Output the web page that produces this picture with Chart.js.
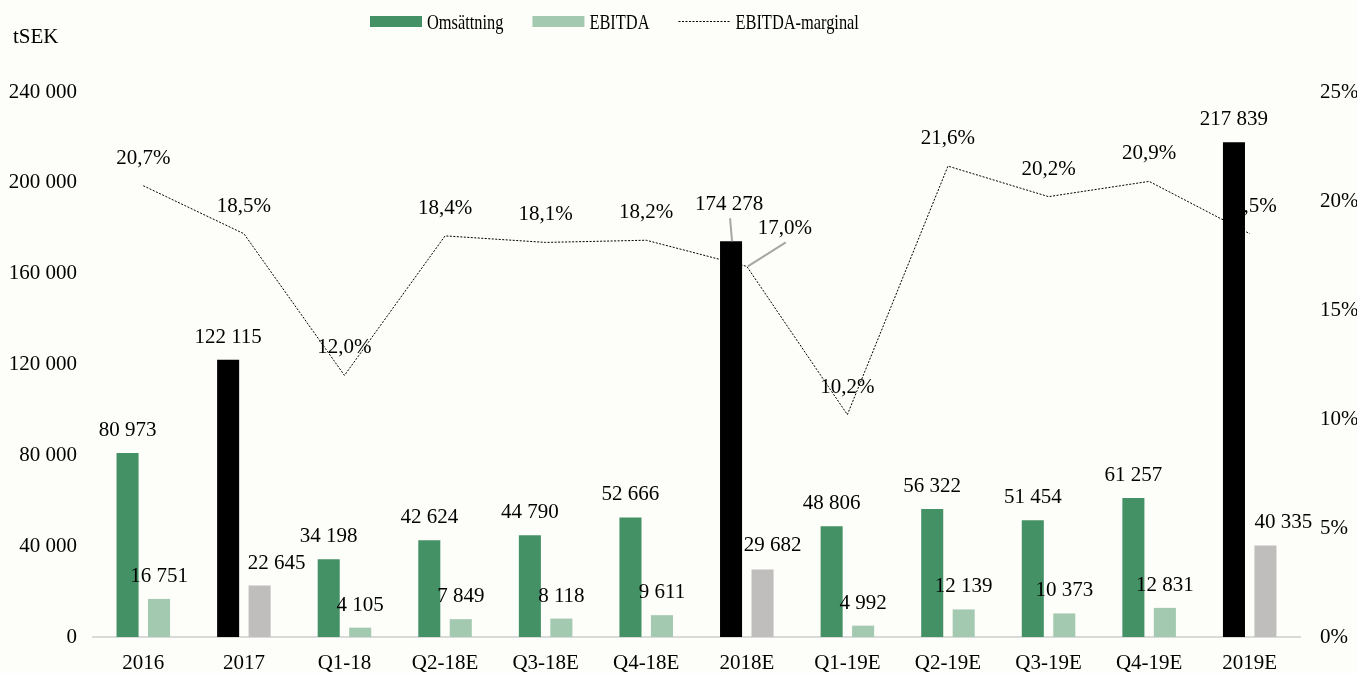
<!DOCTYPE html>
<html>
<head>
<meta charset="utf-8">
<script src="https://cdn.jsdelivr.net/npm/chart.js@4.4.1/dist/chart.umd.min.js"></script>
<style>
  html, body { margin: 0; padding: 0; background: #fdfdf9; }
  canvas { display: block; }
</style>
</head>
<body>
<canvas id="chart" width="1357" height="673"></canvas>
<script>
const categories = ['2016', '2017', 'Q1-18', 'Q2-18E', 'Q3-18E', 'Q4-18E', '2018E', 'Q1-19E', 'Q2-19E', 'Q3-19E', 'Q4-19E', '2019E'];
const omsattning = [80973, 122115, 34198, 42624, 44790, 52666, 174278, 48806, 56322, 51454, 61257, 217839];
const ebitda = [16751, 22645, 4105, 7849, 8118, 9611, 29682, 4992, 12139, 10373, 12831, 40335];
const marginal = [20.7, 18.5, 12.0, 18.4, 18.1, 18.2, 17.0, 10.2, 21.6, 20.2, 20.9, 18.5];
const fullYears = ['2017', '2018E', '2019E'];
const leftMax = 240000, leftStep = 40000;
const rightMax = 25, rightStep = 5;

const GREEN = '#449166', LIGHT = '#a3c9b0', BLACK = '#000000', GREY = '#bfbebd';
const FONT = "'Liberation Serif', 'Times New Roman', serif";

// manual nudges for a few labels (moved in the original)
const nudges = {
  '0-6': { dx: -2, dy: -14, leader: true },
  '1-1': { dx: 17, dy: 0 },
  '1-6': { dx: 10, dy: -2 },
  '1-11': { dx: 18, dy: 0 },
  '2-6': { dx: 38, dy: -10, leader: true }
};

function fmt(v) {
  return String(v).replace(/\B(?=(\d{3})+(?!\d))/g, ' ');
}

function drawLabel(ctx, text, x, baseY, key, anchorX, anchorY) {
  const n = nudges[key] || { dx: 0, dy: 0 };
  const lx = x + n.dx, ly = baseY + n.dy;
  if (n.leader) {
    ctx.save();
    ctx.strokeStyle = '#a6a6a6';
    ctx.lineWidth = 2;
    ctx.beginPath();
    ctx.moveTo(lx + 1, ly + 8);
    ctx.lineTo(anchorX + 1, anchorY);
    ctx.stroke();
    ctx.restore();
  }
  ctx.fillText(text, lx, ly);
}

const labelsPlugin = {
  id: 'valueLabels',
  beforeDraw(chart) {
    const ctx = chart.ctx;
    ctx.save();
    ctx.fillStyle = '#fdfdf9';
    ctx.fillRect(0, 0, chart.width, chart.height);
    ctx.restore();
  },
  afterDatasetDraw(chart, args) {
    // line labels go under the bars
    if (args.index !== 2) return;
    const ctx = chart.ctx;
    ctx.save();
    ctx.font = '21px ' + FONT;
    ctx.fillStyle = '#000';
    ctx.textAlign = 'center';
    ctx.textBaseline = 'alphabetic';
    args.meta.data.forEach((pt, i) => {
      const txt = marginal[i].toFixed(1).replace('.', ',') + '%';
      drawLabel(ctx, txt, pt.x, pt.y - 22, '2-' + i, pt.x, pt.y);
    });
    ctx.restore();
  },
  afterDatasetsDraw(chart) {
    const ctx = chart.ctx;
    ctx.save();
    ctx.font = '21px ' + FONT;
    ctx.fillStyle = '#000';
    ctx.textAlign = 'center';
    ctx.textBaseline = 'alphabetic';
    [0, 1].forEach(d => {
      const meta = chart.getDatasetMeta(d);
      const vals = chart.data.datasets[d].data;
      meta.data.forEach((bar, i) => {
        drawLabel(ctx, fmt(vals[i]), bar.x, bar.y - 17, d + '-' + i, bar.x, bar.y);
      });
    });
    ctx.restore();
  },
  afterDraw(chart) {
    const ctx = chart.ctx;
    ctx.save();
    ctx.fillStyle = '#000';
    ctx.font = '21px ' + FONT;
    ctx.textAlign = 'left';
    ctx.textBaseline = 'alphabetic';
    ctx.fillText('tSEK', 13, 43);

    // legend
    ctx.font = '21px ' + FONT;
    const squeeze = 0.78;
    const items = [
      { text: 'Omsättning', color: GREEN, type: 'box' },
      { text: 'EBITDA', color: LIGHT, type: 'box' },
      { text: 'EBITDA-marginal', color: '#000', type: 'line' }
    ];
    let x = 370;
    items.forEach(it => {
      if (it.type === 'box') {
        ctx.fillStyle = it.color;
        ctx.fillRect(x, 16, 52, 11);
      } else {
        ctx.strokeStyle = '#000';
        ctx.lineWidth = 1;
        ctx.setLineDash([2, 1.5]);
        ctx.beginPath();
        ctx.moveTo(x, 21.5);
        ctx.lineTo(x + 51, 21.5);
        ctx.stroke();
        ctx.setLineDash([]);
      }
      const w = ctx.measureText(it.text).width * squeeze;
      ctx.fillStyle = '#000';
      ctx.fillText(it.text, x + 57, 28.5, w);
      x += 57 + w + 29;
    });
    ctx.restore();
  }
};

new Chart(document.getElementById('chart').getContext('2d'), {
  type: 'bar',
  data: {
    labels: categories,
    datasets: [
      {
        label: 'Omsättning',
        data: omsattning,
        backgroundColor: c => fullYears.includes(categories[c.dataIndex]) ? BLACK : GREEN,
        yAxisID: 'y',
        order: 1,
        categoryPercentage: 0.626,
        barPercentage: 0.7
      },
      {
        label: 'EBITDA',
        data: ebitda,
        backgroundColor: c => fullYears.includes(categories[c.dataIndex]) ? GREY : LIGHT,
        yAxisID: 'y',
        order: 1,
        categoryPercentage: 0.626,
        barPercentage: 0.7
      },
      {
        type: 'line',
        label: 'EBITDA-marginal',
        data: marginal,
        yAxisID: 'y1',
        order: 2,
        borderColor: '#000',
        borderWidth: 1,
        borderDash: [2, 1.5],
        pointRadius: 0,
        fill: false,
        tension: 0
      }
    ]
  },
  options: {
    responsive: false,
    animation: false,
    layout: { padding: { top: 92, bottom: 0, left: 0, right: 0 } },
    plugins: {
      legend: { display: false },
      tooltip: { enabled: false }
    },
    scales: {
      x: {
        grid: { display: false, drawTicks: false },
        border: { display: true, color: '#dadada', width: 2 },
        ticks: { color: '#000', font: { family: FONT, size: 21 }, padding: 14, maxRotation: 0 },
        afterFit: s => { s.height = 36; }
      },
      y: {
        position: 'left',
        min: 0,
        max: leftMax,
        grid: { display: false, drawTicks: false },
        border: { display: false },
        ticks: { stepSize: leftStep, color: '#000', font: { family: FONT, size: 21 }, padding: 16, callback: v => fmt(v) },
        afterFit: s => { s.width = 93; }
      },
      y1: {
        position: 'right',
        min: 0,
        max: rightMax,
        grid: { display: false, drawTicks: false },
        border: { display: false },
        ticks: { stepSize: rightStep, color: '#000', font: { family: FONT, size: 21 }, padding: 20, callback: v => v + '%' },
        afterFit: s => { s.width = 57; }
      }
    }
  },
  plugins: [labelsPlugin]
});
</script>
</body>
</html>
